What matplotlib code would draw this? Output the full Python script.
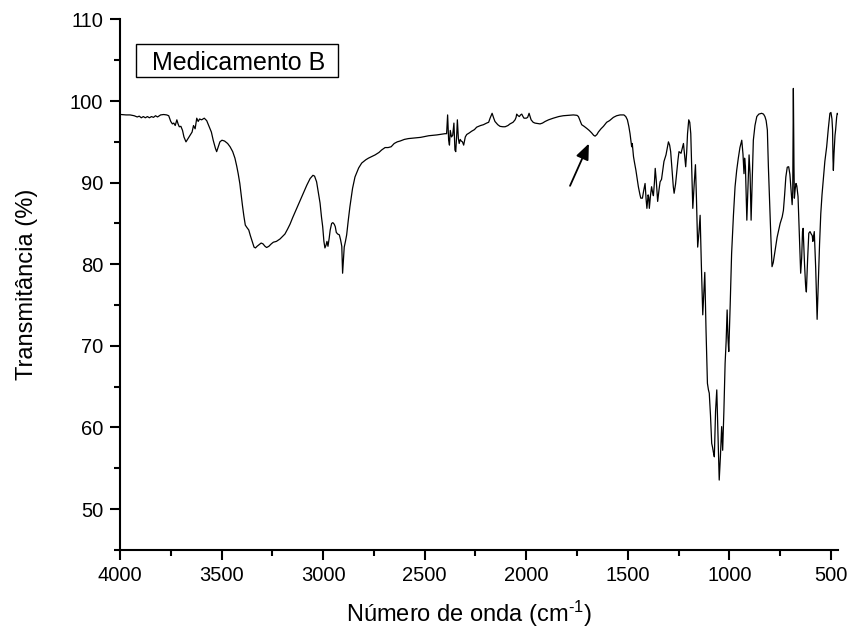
import numpy as np
import matplotlib
matplotlib.use('Agg')
import matplotlib.pyplot as plt
from matplotlib.patches import Rectangle
from matplotlib.ticker import MultipleLocator

plt.rcParams['font.family'] = ['Liberation Sans', 'DejaVu Sans']
plt.rcParams['mathtext.fontset'] = 'custom'
plt.rcParams['mathtext.rm'] = 'Liberation Sans'
plt.rcParams['mathtext.default'] = 'regular'

# wavenumber (cm-1) and transmittance (%)
wavenumber = [
    3995, 3970, 3950, 3930, 3915, 3905, 3895, 3885, 3875, 3865, 3855, 3845, 3835, 3825, 3815,
    3800, 3785, 3770, 3760, 3750, 3742, 3735, 3728, 3720, 3714, 3708, 3700, 3692, 3685, 3675,
    3665, 3655, 3645, 3638, 3630, 3622, 3615, 3608, 3598, 3585, 3573, 3563, 3550, 3541, 3530,
    3524, 3516, 3508, 3498, 3485, 3470, 3458, 3445, 3434, 3425, 3418, 3410, 3404, 3397, 3390,
    3383, 3375, 3366, 3358, 3349, 3340, 3333, 3325, 3315, 3305, 3296, 3286, 3278, 3267, 3255,
    3245, 3230, 3212, 3200, 3188, 3175, 3163, 3150, 3130, 3115, 3098, 3080, 3064, 3050, 3042,
    3032, 3024, 3015, 3008, 3002, 2996, 2991, 2986, 2981, 2976, 2970, 2965, 2958, 2952, 2945,
    2940, 2935, 2928, 2920, 2914, 2908, 2904, 2900, 2896, 2890, 2884, 2876, 2868, 2855, 2843,
    2825, 2810, 2790, 2777, 2760, 2744, 2725, 2712, 2695, 2680, 2665, 2650, 2635, 2621, 2600,
    2580, 2560, 2520, 2480, 2440, 2400, 2392, 2387, 2382, 2378, 2374, 2368, 2362, 2356, 2351,
    2347, 2342, 2339, 2334, 2330, 2325, 2320, 2314, 2308, 2300, 2293, 2280, 2269, 2255, 2244,
    2225, 2211, 2195, 2185, 2178, 2168, 2160, 2154, 2140, 2129, 2115, 2104, 2090, 2080, 2065,
    2055, 2050, 2047, 2040, 2034, 2028, 2022, 2016, 2011, 2000, 1993, 1986, 1980, 1976, 1966,
    1957, 1945, 1932, 1920, 1907, 1890, 1867, 1840, 1818, 1790, 1768, 1750, 1743, 1735, 1727,
    1715, 1702, 1690, 1678, 1668, 1661, 1652, 1645, 1632, 1620, 1604, 1590, 1571, 1555, 1538,
    1519, 1510, 1502, 1495, 1489, 1484, 1481, 1478, 1472, 1468, 1460, 1452, 1448, 1440, 1436,
    1428, 1422, 1415, 1410, 1406, 1400, 1397, 1394, 1388, 1383, 1378, 1374, 1369, 1365, 1360,
    1353, 1346, 1341, 1334, 1328, 1322, 1312, 1306, 1300, 1294, 1289, 1282, 1276, 1272, 1265,
    1259, 1253, 1248, 1243, 1238, 1232, 1226, 1221, 1215, 1210, 1206, 1200, 1195, 1190, 1185,
    1180, 1174, 1167, 1162, 1156, 1150, 1144, 1138, 1131, 1126, 1121, 1115, 1108, 1103, 1099,
    1093, 1087, 1083, 1079, 1074, 1068, 1062, 1056, 1050, 1044, 1038, 1033, 1027, 1021, 1016,
    1011, 1007, 1003, 996, 989, 980, 972, 964, 956, 948, 939, 933, 928, 925, 921,
    914, 909, 903, 898, 893, 888, 882, 874, 865, 855, 841, 832, 825, 819, 813,
    808, 803, 796, 790, 784, 775, 765, 750, 740, 734, 728, 722, 715, 708, 702,
    696, 691, 688, 685, 682, 680, 676, 672, 668, 662, 656, 649, 644, 640, 637,
    630, 625, 621, 615, 609, 603, 597, 592, 589, 587, 582, 575, 568, 562, 556,
    550, 544, 538, 530, 521, 513, 505, 500, 495, 492, 490, 488, 485, 480, 477,
    472, 469, 465,
]
transmittance = [
    98.35, 98.3, 98.3, 98.2, 98.05, 98.15, 97.95, 98.1, 97.95, 98.1, 97.95, 98.1, 98.0, 98.2, 98.05,
    98.3, 98.35, 98.3, 98.2, 97.5, 97.2, 97.3, 97.0, 97.7, 97.2, 96.85, 96.9, 96.4, 95.6, 95.0,
    95.4, 95.8, 96.2, 97.0, 96.6, 97.9, 97.5, 97.8, 97.7, 97.9, 97.6, 97.0, 96.2, 95.2, 94.2,
    93.8, 94.4, 95.0, 95.2, 95.1, 94.8, 94.4, 93.8, 93.0, 92.0, 91.1, 89.9, 88.6, 87.2, 85.9,
    84.8, 84.5, 84.2, 83.5, 82.8, 82.1, 82.0, 82.2, 82.4, 82.6, 82.5, 82.2, 82.05, 82.2, 82.5,
    82.7, 82.8, 83.1, 83.4, 83.7, 84.3, 84.9, 85.7, 86.85, 87.7, 88.7, 89.7, 90.5, 90.9, 90.8,
    90.1, 88.9, 87.5, 85.8, 84.6, 82.8, 82.0, 82.3, 82.8, 82.2, 83.2, 84.2, 85.0, 85.1, 84.9,
    84.6, 83.9, 83.7, 83.6, 83.0, 82.2, 78.9, 80.6, 82.1, 82.8, 83.6, 85.4, 87.05, 89.3, 90.7,
    91.8, 92.4, 92.8, 93.0, 93.2, 93.4, 93.7, 94.0, 94.3, 94.3, 94.4, 94.8, 95.0, 95.1, 95.3,
    95.4, 95.45, 95.55, 95.75, 95.85, 96.0, 96.0, 98.3, 95.2, 94.6, 96.4, 95.6, 95.8, 97.3, 94.0,
    93.8, 96.0, 97.7, 95.4, 94.8, 95.3, 95.1, 95.0, 94.6, 95.6, 95.9, 96.1, 96.3, 96.5, 96.8,
    97.0, 97.1, 97.3, 97.4, 97.9, 98.5, 97.9, 97.5, 97.1, 96.9, 96.85, 96.85, 97.0, 97.2, 97.4,
    97.7, 98.0, 98.4, 98.2, 98.1, 98.3, 98.4, 98.1, 97.9, 97.9, 98.0, 98.5, 98.0, 97.7, 97.4,
    97.3, 97.25, 97.2, 97.3, 97.5, 97.7, 97.9, 98.1, 98.2, 98.25, 98.3, 98.25, 98.1, 97.6, 97.1,
    96.9, 96.65, 96.4, 96.1, 95.8, 95.7, 95.9, 96.2, 96.6, 96.9, 97.4, 97.6, 98.0, 98.2, 98.3,
    98.3, 98.1, 97.7, 96.9, 96.0, 95.0, 94.4, 94.8, 93.2, 92.6, 91.5, 90.2, 89.5, 88.5, 88.1,
    88.1, 89.0, 89.9, 88.0, 86.85, 88.5, 88.2, 86.85, 88.5, 89.5, 88.8, 88.4, 90.0, 91.75, 90.3,
    87.7, 89.2, 90.1, 90.4, 91.5, 92.6, 93.4, 94.2, 95.0, 94.6, 93.8, 91.5, 89.5, 88.7, 89.8,
    91.3, 92.8, 93.8, 93.7, 93.6, 94.2, 94.8, 93.5, 91.95, 93.8, 96.0, 97.7, 97.4, 96.0, 91.5,
    86.85, 89.5, 92.2, 88.0, 82.1, 83.8, 86.0, 80.0, 73.8, 76.5, 79.0, 72.0, 65.4, 64.6, 64.2,
    61.5, 58.05, 57.6, 57.0, 56.4, 62.0, 64.6, 59.0, 53.55, 56.5, 60.1, 57.2, 62.0, 67.85, 70.5,
    74.4, 71.0, 69.3, 75.0, 81.3, 86.0, 89.5, 91.5, 93.0, 94.3, 95.2, 93.5, 91.1, 93.0, 92.0,
    85.4, 89.0, 93.4, 91.0, 85.4, 90.0, 95.2, 97.0, 98.1, 98.4, 98.5, 98.4, 98.1, 97.6, 96.45,
    92.0, 88.3, 83.5, 79.7, 80.2, 81.7, 83.3, 85.0, 85.8, 86.6, 88.5, 90.7, 91.9, 91.95, 91.0,
    89.0, 87.3, 89.0, 101.55, 92.0, 88.1, 89.2, 89.9, 89.6, 88.3, 84.0, 78.9, 80.8, 84.0, 84.4,
    80.0, 77.5, 76.6, 80.5, 83.8, 84.0, 83.7, 83.5, 82.8, 83.2, 84.0, 79.5, 73.25, 78.0, 82.5,
    86.2, 88.5, 90.3, 92.6, 94.4, 96.6, 98.5, 98.6, 97.8, 96.5, 93.0, 91.5, 93.5, 95.8, 96.45,
    98.0, 98.5, 98.4,
]

sample_name = 'Medicamento B'
arrow_tail = (1790, 89.3)
arrow_head = (1686, 95.1)

fig = plt.figure(figsize=(8.49, 6.38), dpi=100)
ax = fig.add_axes([0.1413, 0.1382, 0.8458, 0.8313])

ax.plot(wavenumber, transmittance, color='k', lw=0.9)
ax.annotate('', xy=arrow_head, xytext=arrow_tail,
            arrowprops=dict(arrowstyle='-|>,head_length=0.6,head_width=0.25',
                            color='k', lw=1.3, mutation_scale=16))

ax.set_xlim(4000, 465)
ax.set_ylim(45, 110)
ax.xaxis.set_major_locator(MultipleLocator(500))
ax.xaxis.set_minor_locator(MultipleLocator(250))
ax.yaxis.set_minor_locator(MultipleLocator(5))
ax.set_yticks(np.arange(50, 111, 10))

for side in ['top', 'right']:
    ax.spines[side].set_visible(False)
for side in ['left', 'bottom']:
    ax.spines[side].set_linewidth(1.5)

ax.tick_params(which='major', direction='out', length=7, width=1.5, labelsize=14.5, pad=5)
ax.tick_params(which='minor', direction='out', length=4, width=1.5)

ax.set_xlabel('Número de onda (cm$^{\\text{-1}}$)', fontsize=17)
ax.set_ylabel('Transmitância (%)', fontsize=17)
ax.xaxis.set_label_coords(0.486, -0.093)
ax.yaxis.set_label_coords(-0.114, 0.5)

# framed sample label
ax.add_patch(Rectangle((0.0223, 0.8914), 0.2813, 0.0622, transform=ax.transAxes,
                       facecolor='white', edgecolor='k', lw=1, zorder=3))
ax.text(0.0446, 0.9046, sample_name, transform=ax.transAxes, fontsize=18,
        ha='left', va='baseline', zorder=4)

fig.savefig('out.png', dpi=100)
